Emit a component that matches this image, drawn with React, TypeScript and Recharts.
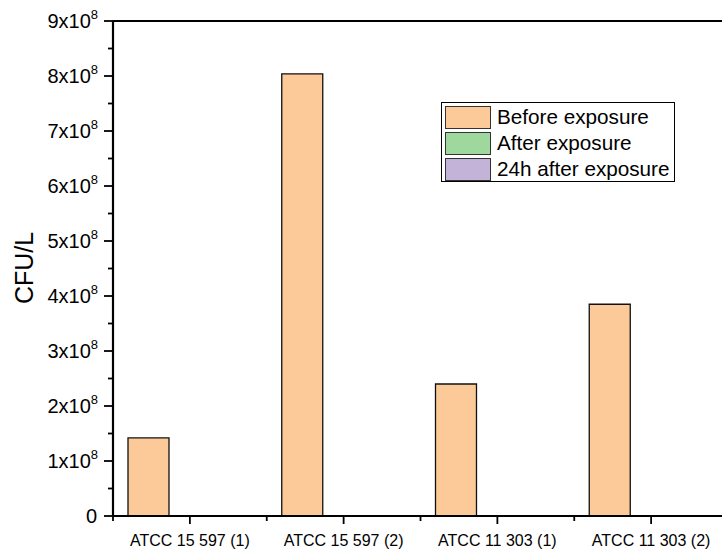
import React from "react";
import { BarChart, Bar, XAxis, YAxis, ReferenceLine, Label } from "recharts";

const strains = ["ATCC 15 597 (1)", "ATCC 15 597 (2)", "ATCC 11 303 (1)", "ATCC 11 303 (2)"];
const beforeExposure = [1.42e8, 8.04e8, 2.4e8, 3.85e8];
const afterExposure = [0, 0, 0, 0];
const after24h = [0, 0, 0, 0];
const yTicks = [0, 5e7, 1e8, 1.5e8, 2e8, 2.5e8, 3e8, 3.5e8, 4e8, 4.5e8, 5e8, 5.5e8, 6e8, 6.5e8, 7e8, 7.5e8, 8e8, 8.5e8, 9e8];

const series = [
  { key: "before", name: "Before exposure", color: "#fcc998" },
  { key: "after", name: "After exposure", color: "#9fd89d" },
  { key: "after24", name: "24h after exposure", color: "#c3b3d8" },
];

const data = strains.map((s, i) => ({
  strain: s,
  before: beforeExposure[i],
  after: afterExposure[i],
  after24: after24h[i],
}));

const FONT = "'Liberation Sans', Arial, sans-serif";
const HALF_BAND = (728 - 113) / 8;

function YTick(props: any) {
  const { x, y, payload } = props;
  const v = payload.value;
  const major = Math.round(v / 1e7) % 10 === 0;
  if (!major) {
    return <line x1={x - 5} x2={x} y1={y} y2={y} stroke="#000" strokeWidth={1.8} />;
  }
  const n = Math.round(v / 1e8);
  return (
    <g>
      <line x1={x - 9} x2={x} y1={y} y2={y} stroke="#000" strokeWidth={1.8} />
      {n === 0 ? (
        <text x={x - 16} y={y + 7} textAnchor="end" fontSize={20} fontFamily={FONT} fill="#000">
          0
        </text>
      ) : (
        <text x={x - 15} y={y + 7} textAnchor="end" fontSize={20} fontFamily={FONT} fill="#000">
          {n}x10
          <tspan fontSize={13} dy={-9}>8</tspan>
        </text>
      )}
    </g>
  );
}

function XTick(props: any) {
  const { x, y, payload, index } = props;
  return (
    <g>
      <line x1={x} x2={x} y1={y} y2={y + 8} stroke="#000" strokeWidth={1.8} />
      <line x1={x + HALF_BAND} x2={x + HALF_BAND} y1={y} y2={y + 5} stroke="#000" strokeWidth={1.8} />
      {index === 0 && (
        <line x1={x - HALF_BAND} x2={x - HALF_BAND} y1={y} y2={y + 5} stroke="#000" strokeWidth={1.8} />
      )}
      <text x={x} y={y + 30} textAnchor="middle" fontSize={16} fontFamily={FONT} fill="#000">
        {payload.value}
      </text>
    </g>
  );
}

export default function App() {
  return (
    <div
      style={{
        position: "fixed",
        left: 0,
        top: 0,
        width: 722,
        height: 552,
        overflow: "hidden",
        background: "#fff",
        fontFamily: FONT,
      }}
    >
      <BarChart
        width={740}
        height={552}
        data={data}
        margin={{ top: 21, right: 12, bottom: 0, left: 0 }}
        barGap={0}
        barSize={41}
      >
        <XAxis
          dataKey="strain"
          height={36}
          tickSize={0}
          tickMargin={0}
          tickLine={false}
          axisLine={{ stroke: "#000", strokeWidth: 2.2 }}
          tick={<XTick />}
          interval={0}
        />
        <YAxis
          width={113}
          domain={[0, 9e8]}
          ticks={yTicks}
          interval={0}
          tickSize={0}
          tickMargin={0}
          tickLine={false}
          axisLine={{ stroke: "#000", strokeWidth: 2.2 }}
          tick={<YTick />}
        >
          <Label
            content={() => (
              <text
                x={33}
                y={268}
                transform="rotate(-90 33 268)"
                textAnchor="middle"
                fontSize={25}
                fontFamily={FONT}
                fill="#000"
              >
                CFU/L
              </text>
            )}
          />
        </YAxis>
        <ReferenceLine y={9e8} stroke="#000" strokeWidth={2.2} />
        {series.map((s) => (
          <Bar
            key={s.key}
            dataKey={s.key}
            name={s.name}
            fill={s.color}
            stroke="#111"
            strokeWidth={1.3}
            isAnimationActive={false}
          />
        ))}
      </BarChart>
      <div
        style={{
          position: "absolute",
          left: 441,
          top: 102,
          width: 234,
          height: 80,
          border: "1px solid #000",
          background: "#fff",
          padding: "1px 0 0 3px",
          boxSizing: "border-box",
        }}
      >
        {series.map((s) => (
          <div key={s.key} style={{ display: "flex", alignItems: "center", height: 26 }}>
            <div
              style={{
                width: 44,
                height: 21,
                background: s.color,
                border: "1px solid #333",
                marginRight: 6,
              }}
            />
            <span style={{ fontSize: 20.7, lineHeight: "22px", color: "#000", whiteSpace: "nowrap" }}>
              {s.name}
            </span>
          </div>
        ))}
      </div>
    </div>
  );
}
